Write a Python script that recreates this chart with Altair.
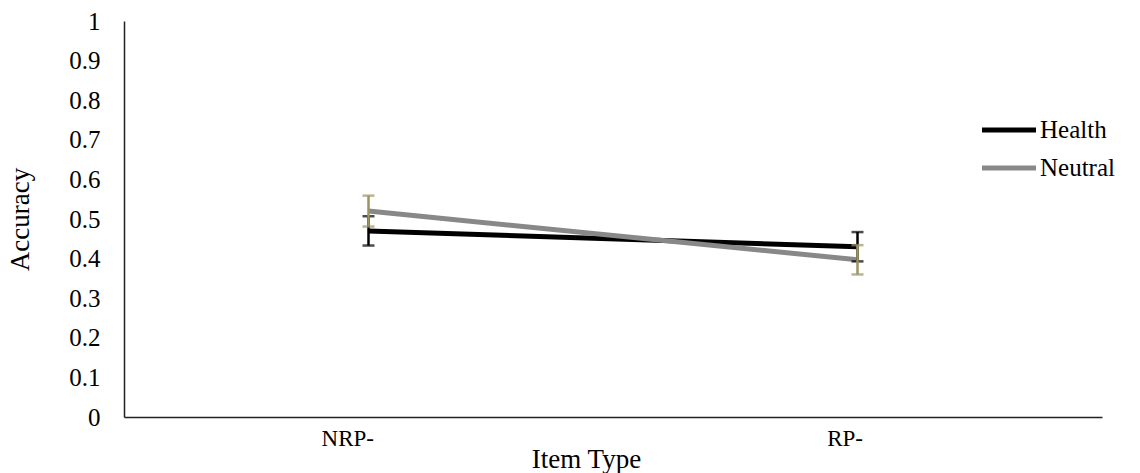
import altair as alt
import pandas as pd

# Mean accuracy by item type for each word condition, with error bar half-widths
item_types = ["NRP-", "RP-"]
groups = ["Health", "Neutral"]
health_means = [0.47, 0.43]
health_err = [0.037, 0.037]
neutral_means = [0.52, 0.397]
neutral_err = [0.039, 0.037]
y_ticks = [0, 0.1, 0.2, 0.3, 0.4, 0.5, 0.6, 0.7, 0.8, 0.9, 1]

rows = []
for g, means, errs in [("Health", health_means, health_err),
                       ("Neutral", neutral_means, neutral_err)]:
    for it, m, e in zip(item_types, means, errs):
        rows.append({"group": g, "item": it, "mean": m, "lo": m - e, "hi": m + e})
df = pd.DataFrame(rows)

FONT = "Liberation Serif"
line_colors = ["#000000", "#888888"]
err_colors = {"Health": "#000000", "Neutral": "#9C9461"}

x_scale = alt.Scale(type="point", padding=0.5)
y_scale = alt.Scale(domain=[0, 1], nice=False, zero=True)

x_axis = alt.Axis(
    title="Item Type",
    titleX=462, titleY=50, titleBaseline="alphabetic",
    titleFont=FONT, titleFontSize=27, titleFontWeight="normal", titleColor="#000",
    labelFont=FONT, labelFontSize=23, labelColor="#000",
    labelAlign="right", labelOffset=5, labelPadding=10, labelAngle=0,
    ticks=False, grid=False, domainColor="#222", domainWidth=1.5,
)
y_axis = alt.Axis(
    title="Accuracy",
    titleFont=FONT, titleFontSize=27, titleFontWeight="normal", titleColor="#000",
    titlePadding=34,
    labelFont=FONT, labelFontSize=25, labelColor="#000", labelPadding=24,
    labelOverlap=False,
    values=y_ticks, format="~g",
    ticks=False, grid=False, domainColor="#222", domainWidth=1.5,
)

xe = alt.X("item:N", sort=item_types, scale=x_scale, axis=x_axis)

# Legend key: a long horizontal stroke (path twice as wide as the unit symbol)
lines = alt.Chart(df).mark_line(strokeWidth=5, strokeCap="butt").encode(
    x=xe,
    y=alt.Y("mean:Q", scale=y_scale, axis=y_axis),
    color=alt.Color(
        "group:N",
        scale=alt.Scale(domain=groups, range=line_colors),
        legend=alt.Legend(
            title=None, orient="none", legendX=869, legendY=93,
            symbolType="M-2,0H2", symbolSize=729, symbolStrokeWidth=5,
            symbolFillColor="transparent",
            rowPadding=9, labelOffset=15,
            labelFont=FONT, labelFontSize=25, labelColor="#000", labelLimit=300,
        ),
    ),
    detail="group:N",
)

err_layers = []
for g in groups:
    base = alt.Chart(df).transform_filter(alt.datum.group == g)
    bar = base.mark_rule(strokeWidth=2.5, color=err_colors[g]).encode(
        x=xe,
        y=alt.Y("lo:Q", scale=y_scale, axis=y_axis),
        y2="hi:Q",
    )
    cap_lo = base.mark_tick(size=12, thickness=2.5, color=err_colors[g]).encode(
        x=xe,
        y=alt.Y("lo:Q", scale=y_scale, axis=y_axis),
    )
    cap_hi = base.mark_tick(size=12, thickness=2.5, color=err_colors[g]).encode(
        x=xe,
        y=alt.Y("hi:Q", scale=y_scale, axis=y_axis),
    )
    err_layers += [bar, cap_lo, cap_hi]

chart = alt.layer(lines, *err_layers).properties(
    width=978,
    height=396,
    autosize=alt.AutoSizeParams(type="none"),
    padding={"left": 124, "top": 21, "right": 38, "bottom": 56},
    background="white",
).configure_view(stroke=None)

chart.save("out.html", embed_options={"renderer": "svg", "actions": False})
